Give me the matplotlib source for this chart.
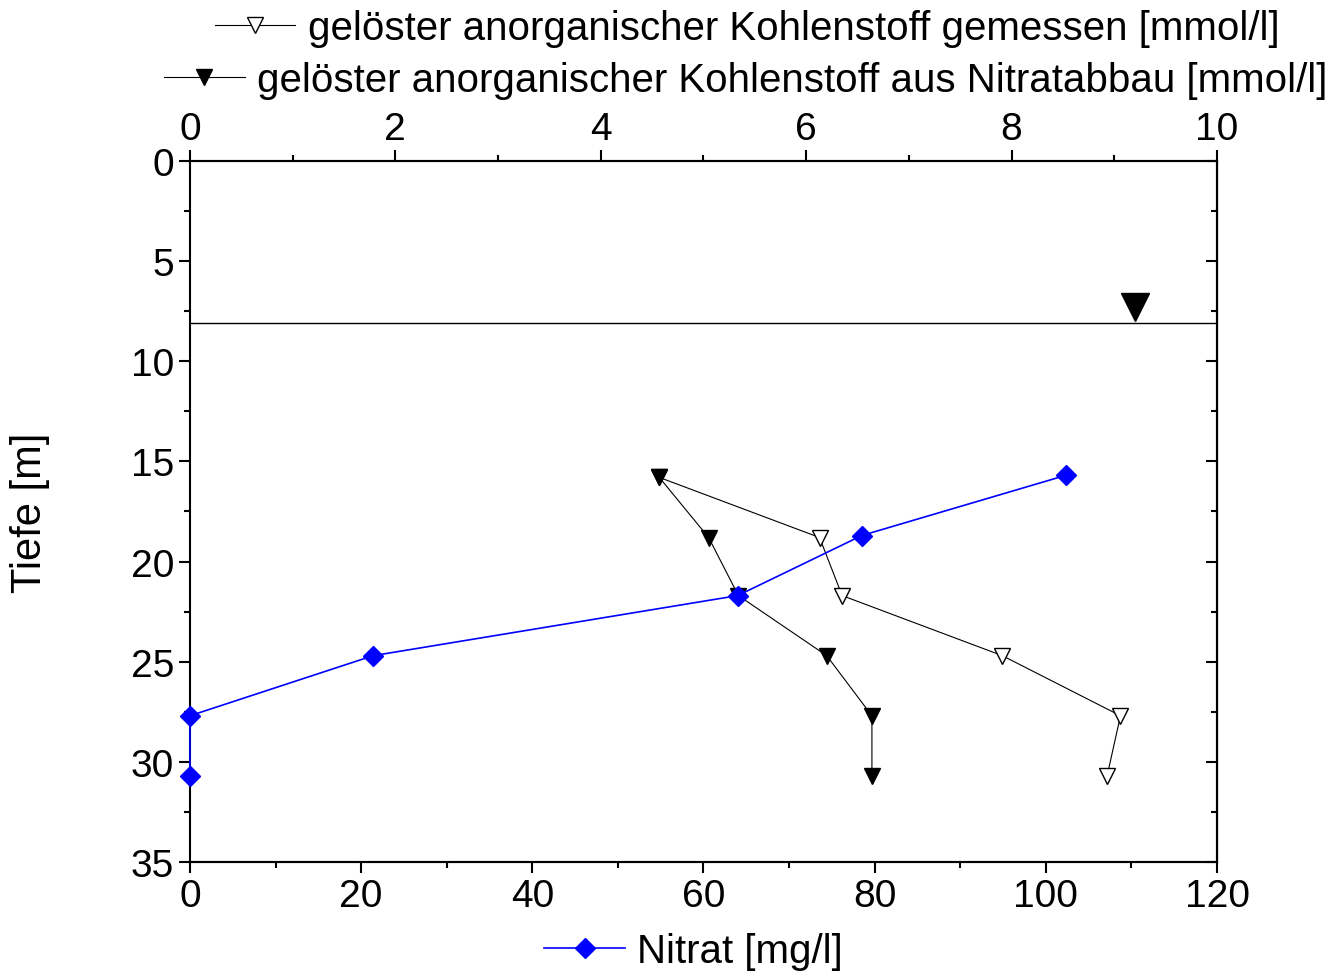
import numpy as np
import matplotlib.pyplot as plt
from matplotlib.ticker import MultipleLocator

plt.rcParams['font.family'] = ['Liberation Sans', 'DejaVu Sans']

# Nitrat (bottom axis, mg/l)
nitrat = [102.3, 78.5, 64.0, 21.4, 0.0, 0.0]
nitrat_depth = [15.7, 18.7, 21.7, 24.7, 27.7, 30.7]

# DIC measured / from nitrate reduction (top axis, mmol/l)
dic_depth = [15.8, 18.8, 21.7, 24.7, 27.7, 30.7]
dic_meas = [4.57, 6.13, 6.35, 7.91, 9.06, 8.93]
dic_nit_depth = [15.8, 18.8, 21.7, 24.7, 27.7, 30.7]
dic_nit = [4.57, 5.05, 5.34, 6.20, 6.64, 6.64]

level_depth = 8.1
marker_x, marker_depth = 9.2, 7.3

fig = plt.figure(figsize=(13.34, 9.78), dpi=100)
ax = fig.add_axes([0.1424, 0.1176, 0.7699, 0.7168])

ax.axhline(level_depth, color='black', lw=1)
ax.set_xlim(0, 120)
ax.set_ylim(35, 0)
ax.xaxis.set_major_locator(MultipleLocator(20))
ax.xaxis.set_minor_locator(MultipleLocator(10))
ax.yaxis.set_major_locator(MultipleLocator(5))
ax.yaxis.set_minor_locator(MultipleLocator(2.5))
ax.tick_params(labelsize=28, direction='out', width=1.5, length=8)
ax.tick_params(which='minor', direction='out', width=1.5, length=4)
ax.set_ylabel('Tiefe [m]', fontsize=30, labelpad=58)

right = ax.secondary_yaxis('right')
right.yaxis.set_major_locator(MultipleLocator(5))
right.yaxis.set_minor_locator(MultipleLocator(2.5))
right.tick_params(direction='in', labelright=False, width=1.5, length=8)
right.tick_params(which='minor', direction='in', width=1.5, length=4)

ax2 = ax.twiny()
l_meas, = ax2.plot(dic_meas, dic_depth, color='black', lw=0.8, marker='v',
                   ms=12, mfc='white', mec='black')
l_dn, = ax2.plot(dic_nit, dic_nit_depth, color='black', lw=0.8, marker='v',
                 ms=12, mfc='black')
ax2.plot([marker_x], [marker_depth], marker='v', ms=20, color='black', ls='none')
ax2.set_xlim(0, 10)
ax2.xaxis.set_major_locator(MultipleLocator(2))
ax2.xaxis.set_minor_locator(MultipleLocator(1))
ax2.tick_params(labelsize=28, direction='out', width=1.5, length=8, pad=2)
ax2.tick_params(which='minor', direction='out', width=1.5, length=4)
ax2.spines['left'].set_visible(False)

# nitrate drawn on the top-layer axes so the line on x=0 shows over the spine
ax3 = ax.twinx()
ax3.set_ylim(35, 0)
ax3.set_xlim(0, 120)
ax3.axis('off')
l_nit, = ax3.plot(nitrat, nitrat_depth, color='blue', marker='D', ms=10, lw=1.2,
                  clip_on=False)

for a in (ax, ax2):
    for s in a.spines.values():
        s.set_linewidth(1.5)

fig.legend([l_meas], ['gelöster anorganischer Kohlenstoff gemessen [mmol/l]'],
           loc='upper right', bbox_to_anchor=(0.98, 1.019), frameon=False,
           fontsize=29, handlelength=2.0, handletextpad=0.3, borderpad=0.2)
fig.legend([l_dn], ['gelöster anorganischer Kohlenstoff aus Nitratabbau [mmol/l]'],
           loc='upper right', bbox_to_anchor=(1.016, 0.965), frameon=False,
           fontsize=29, handlelength=2.0, handletextpad=0.3, borderpad=0.2)
fig.legend([l_nit], ['Nitrat [mg/l]'], loc='lower center',
           bbox_to_anchor=(0.52, -0.03), frameon=False, fontsize=29,
           handlelength=2.0, handletextpad=0.3)

fig.savefig('out.png', dpi=100)
